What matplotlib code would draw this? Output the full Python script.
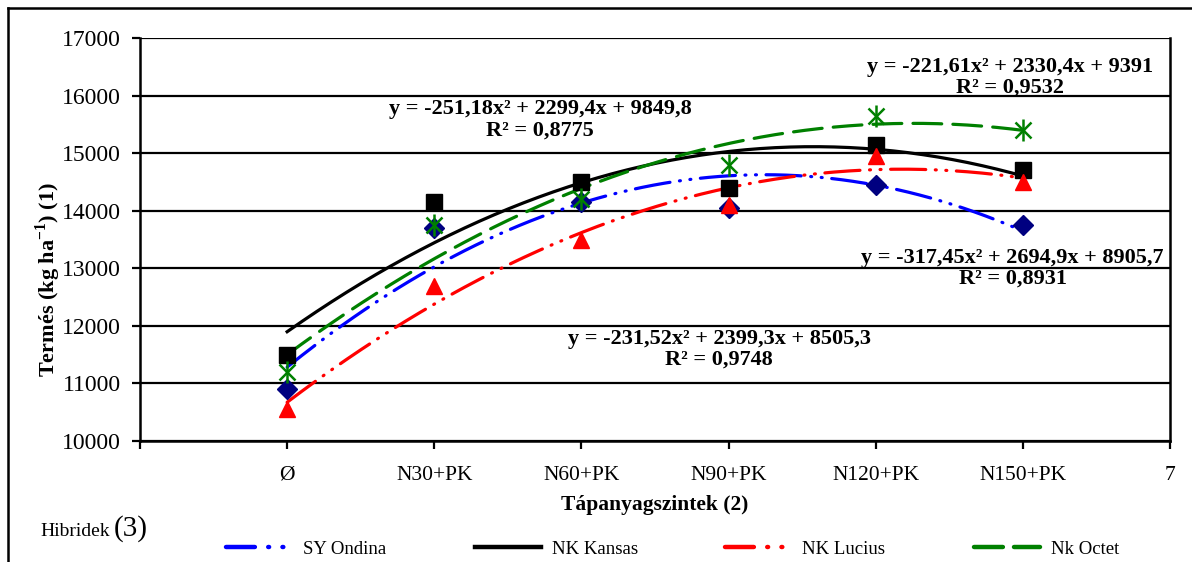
import numpy as np
import matplotlib
matplotlib.use("Agg")
import matplotlib.pyplot as plt
from matplotlib.lines import Line2D

plt.rcParams['font.family'] = ['Liberation Serif', 'DejaVu Serif']
plt.rcParams['mathtext.fontset'] = 'custom'
plt.rcParams['mathtext.rm'] = 'Liberation Serif'
plt.rcParams['mathtext.bf'] = 'Liberation Serif:bold'

categories = ['Ø', 'N30+PK', 'N60+PK', 'N90+PK', 'N120+PK', 'N150+PK']
xpos = [1, 2, 3, 4, 5, 6]
yticks = [10000, 11000, 12000, 13000, 14000, 15000, 16000, 17000]

ondina = [10900, 13700, 14150, 14050, 14450, 13750]
kansas = [11500, 14150, 14500, 14400, 15150, 14700]
lucius = [10550, 12700, 13500, 14100, 14950, 14500]
octet = [11200, 13750, 14200, 14800, 15650, 15400]

# trendline coefficients as printed on the chart (a, b, c)
coef_ondina = [-317.45, 2694.9, 8905.7]
coef_kansas = [-251.18, 2299.4, 9849.8]
coef_lucius = [-231.52, 2399.3, 8505.3]
coef_octet = [-221.61, 2330.4, 9391]

eq_ondina = 'y = -317,45x² + 2694,9x + 8905,7\nR² = 0,8931'
eq_kansas = 'y = -251,18x² + 2299,4x + 9849,8\nR² = 0,8775'
eq_lucius = 'y = -231,52x² + 2399,3x + 8505,3\nR² = 0,9748'
eq_octet = 'y = -221,61x² + 2330,4x + 9391\nR² = 0,9532'

dash_dot2 = (0, (11, 3, 0.3, 3, 0.3, 3))
dash_long = (0, (9, 3.5))
leg_dash_dot2 = (0, (6.5, 3, 0.2, 3, 0.2, 3))
leg_dash_long = (0, (6.5, 2.5))

series = [
    ('SY Ondina', ondina, coef_ondina, 'blue', dash_dot2, leg_dash_dot2, 'D', '#000080', 10),
    ('NK Kansas', kansas, coef_kansas, 'black', '-', '-', 's', 'black', 12),
    ('NK Lucius', lucius, coef_lucius, 'red', dash_dot2, leg_dash_dot2, '^', 'red', 11.5),
    ('Nk Octet', octet, coef_octet, 'green', dash_long, leg_dash_long, 'star', 'green', 12),
]

fig = plt.figure(figsize=(11.92, 5.62), dpi=100)
ax = fig.add_axes([140 / 1192, 1 - 441 / 562, 1030 / 1192, 403 / 562])

xs = np.linspace(1, 6, 200)
for name, vals, c, col, ls, lls, mk, mcol, ms in series:
    ys = c[0] * xs ** 2 + c[1] * xs + c[2]
    ax.plot(xs, ys, color=col, linestyle=ls, lw=2.3, dash_capstyle='round', zorder=3)
for name, vals, c, col, ls, lls, mk, mcol, ms in series:
    if mk == 'star':
        # Excel-style star: an X with a vertical bar through it
        ax.plot(xpos, vals, linestyle='none', marker='x', markersize=ms,
                markeredgecolor=mcol, markeredgewidth=1.8, zorder=4)
        ax.plot(xpos, vals, linestyle='none', marker='|', markersize=ms * 1.35,
                markeredgecolor=mcol, markeredgewidth=1.8, zorder=4)
    else:
        ax.plot(xpos, vals, linestyle='none', marker=mk, markersize=ms,
                color=mcol, markeredgecolor=mcol, zorder=4)

ax.set_xlim(0, 7)
ax.set_ylim(10000, 17000)
ax.set_yticks(yticks)
ax.set_yticklabels([str(v) for v in yticks], fontsize=17)
ax.set_xticks(range(8))
ax.set_xticklabels([''] + categories + ['7'], fontsize=15.5)
ax.yaxis.grid(True, color='black', lw=1.6, zorder=1)
ax.set_axisbelow(True)
for s in ['left', 'bottom', 'right']:
    ax.spines[s].set_linewidth(1.8)
ax.spines['top'].set_visible(False)
ax.tick_params(axis='both', direction='out', length=6, width=1.6)
ax.tick_params(axis='y', pad=8)
ax.tick_params(axis='x', pad=12)

ax.set_ylabel('Termés (kg ha$^{\\mathbf{-1}}$) (1)', fontsize=16, fontweight='bold')
ax.yaxis.set_label_coords(-0.075, 0.40)
ax.set_xlabel('Tápanyagszintek (2)', fontsize=15.5, fontweight='bold', labelpad=7)

eq_kw = dict(fontsize=16, fontweight='bold', ha='center', va='center',
             multialignment='center', linespacing=1.05, zorder=5)
ax.text(2.72, 15580, eq_kansas, **eq_kw)
ax.text(5.91, 16320, eq_octet, **eq_kw)
ax.text(5.93, 13000, eq_ondina, **eq_kw)
ax.text(3.935, 11590, eq_lucius, **eq_kw)

# figure frame (left and top edges visible)
fig.add_artist(Line2D([8 / 1192, 8 / 1192], [0, 1 - 8 / 562], transform=fig.transFigure,
                      color='black', lw=1.8))
fig.add_artist(Line2D([8 / 1192, 1], [1 - 8 / 562, 1 - 8 / 562], transform=fig.transFigure,
                      color='black', lw=1.8))

fig.text(40 / 1192, 1 - 531 / 562, 'Hibridek', fontsize=14, va='center', ha='left')
fig.text(114 / 1192, 1 - 529 / 562, '(3)', fontsize=21, va='center', ha='left')

# legend entries placed individually, like the original
legend_x = [226, 475, 725, 974]
for s, lx in zip(series, legend_x):
    h = Line2D([], [], color=s[3], linestyle=s[5], lw=3.2, dash_capstyle='round')
    fig.legend([h], [s[0]], frameon=False, loc='center left',
               bbox_to_anchor=(lx / 1192, 1 - 549 / 562), handlelength=3.5,
               fontsize=13.5, borderaxespad=0, borderpad=0, handletextpad=0.6)

fig.savefig('out.png', dpi=100)
